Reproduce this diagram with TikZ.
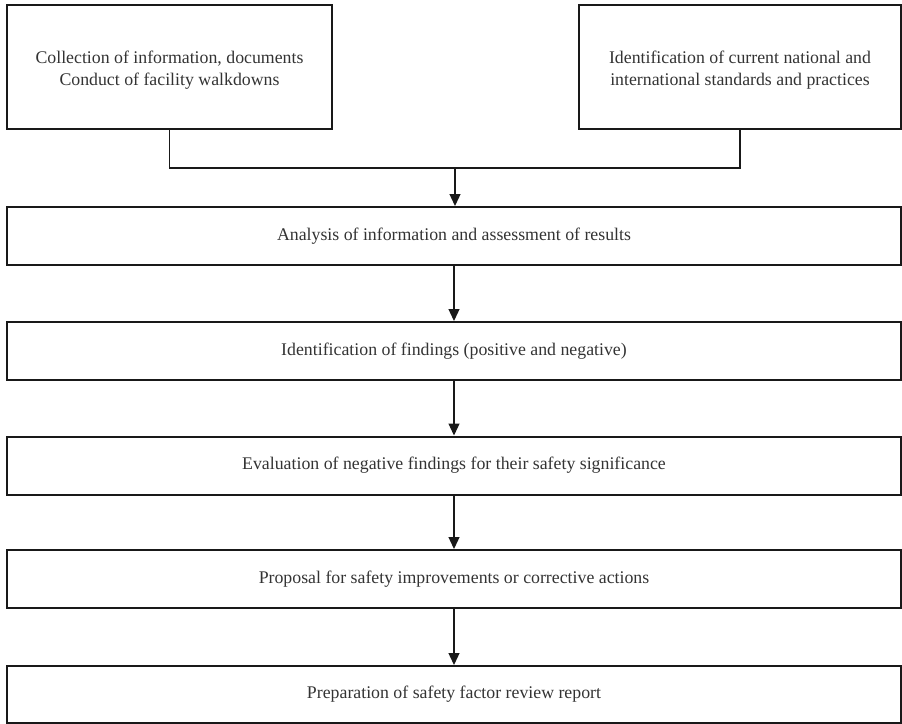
\documentclass[tikz,border=0pt]{standalone}
\usepackage{fontspec}
\setmainfont{Liberation Serif}
\usetikzlibrary{arrows.meta}
\begin{document}
\begin{tikzpicture}[x=1pt,y=-1pt,
  txt/.style={align=center, text=black!80, font=\fontsize{17.8}{21.5}\selectfont, inner sep=0pt},
  box/.style={draw=black!90, line width=2pt, minimum height=58pt, inner sep=0pt, txt},
  wide/.style={box, minimum width=894pt},
  top/.style={draw=black!90, line width=2pt, minimum height=124pt, inner sep=0pt},
  conn/.style={line width=1.3pt, draw=black!90},
  arr/.style={conn, -{Triangle[length=12pt,width=11pt]}}]
\useasboundingbox (0,0) rectangle (902,723);
\node[top, minimum width=325pt,
  label={[txt, yshift=-3pt, name=at]center:Collection of information, documents\\Conduct of facility walkdowns}] (a) at (169.5,67) {};
\node[top, minimum width=322pt,
  label={[txt, yshift=-3pt, name=bt]center:Identification of current national and\\international standards and practices}] (b) at (740,67) {};
\node[wide] (c1) at (454,236) {Analysis of information and assessment of results};
\node[wide] (c2) at (454,351) {Identification of findings (positive and negative)};
\node[wide] (c3) at (454,465.5) {Evaluation of negative findings for their safety significance};
\node[wide] (c4) at (454,579) {Proposal for safety improvements or corrective actions};
\node[wide, minimum height=57pt] (c5) at (454,694.5) {Preparation of safety factor review report};
\coordinate (j) at (455,168);
\draw[conn] (a.south) |- (j);
\draw[conn] (b.south) |- (j);
\draw[arr] (j) -- (j |- c1.north);
\draw[arr] (c1) -- (c2);
\draw[arr] (c2) -- (c3);
\draw[arr] (c3) -- (c4);
\draw[arr] (c4) -- (c5);
\end{tikzpicture}
\end{document}
